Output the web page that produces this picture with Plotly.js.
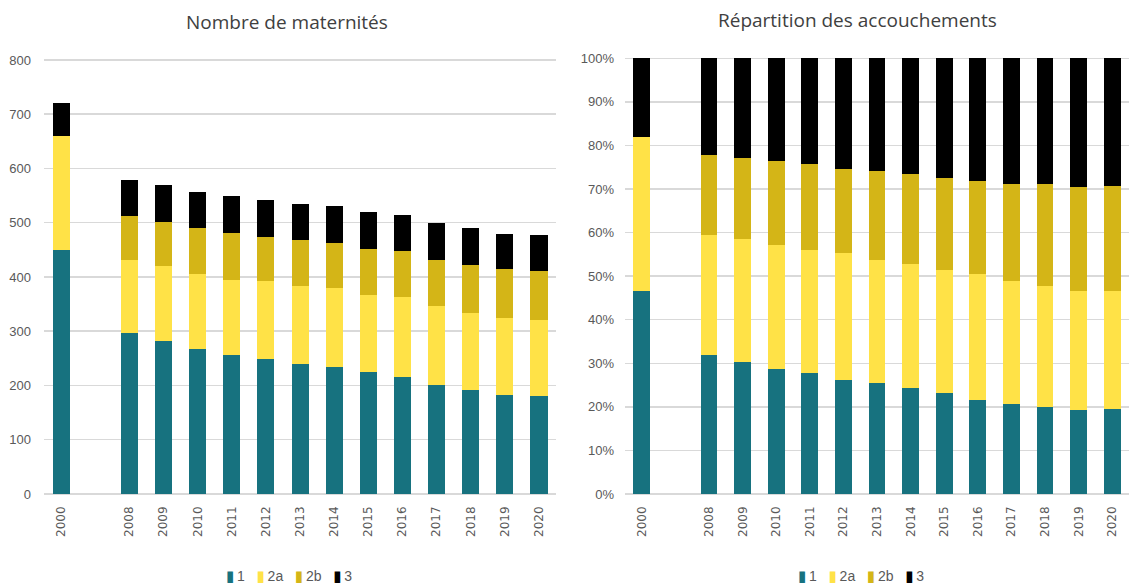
<!DOCTYPE html>
<html>
<head>
<meta charset="utf-8">
<script src="https://cdn.plot.ly/plotly-3.0.1.min.js"></script>
<style>html,body{margin:0;padding:0;background:#fff;}#chart{width:1129px;height:588px;}</style>
</head>
<body>
<div id="chart"></div>
<script>
// Categories (a blank slot separates 2000 and 2008)
const years = ['2000', ' ', '2008', '2009', '2010', '2011', '2012', '2013', '2014', '2015', '2016', '2017', '2018', '2019', '2020'];
const levels = ['1', '2a', '2b', '3'];

// Nombre de maternités, by type
const mat1  = [450, null, 297, 282, 268, 256, 248, 239, 234, 225, 215, 200, 192, 182, 181];
const mat2a = [210, null, 134, 139, 138, 139, 144, 144, 145, 142, 148, 146, 142, 142, 140];
const mat2b = [0,   null,  81,  81,  84,  87,  81,  85,  84,  85,  84,  86,  89,  90,  90];
const mat3  = [60,  null,  66,  67,  66,  68,  68,  67,  68,  68,  68,  68,  67,  66,  66];

// Répartition des accouchements (%), by type
const acc1  = [46.7, null, 32.0, 30.2, 28.7, 27.7, 26.2, 25.4, 24.3, 23.1, 21.6, 20.6, 20.0, 19.2, 19.4];
const acc2a = [35.3, null, 27.5, 28.3, 28.5, 28.3, 29.0, 28.3, 28.4, 28.2, 28.9, 28.3, 27.7, 27.3, 27.3];
const acc2b = [0,    null, 18.2, 18.6, 19.3, 19.7, 19.4, 20.5, 20.8, 21.2, 21.4, 22.2, 23.4, 24.0, 24.0];
const acc3  = [18.0, null, 22.3, 22.9, 23.5, 24.3, 25.4, 25.8, 26.5, 27.5, 28.1, 28.9, 28.9, 29.5, 29.3];

const colors = ['#17727F', '#FFE247', '#D4B517', '#000000'];
const matSeries = [mat1, mat2a, mat2b, mat3];
const accSeries = [acc1, acc2a, acc2b, acc3];

const traces = [];
matSeries.forEach((vals, i) => {
  traces.push({
    type: 'bar', name: levels[i], x: years, y: vals,
    xaxis: 'x', yaxis: 'y', showlegend: false,
    marker: {color: colors[i], line: {width: 0}}
  });
});
accSeries.forEach((vals, i) => {
  traces.push({
    type: 'bar', name: levels[i], x: years, y: vals,
    xaxis: 'x2', yaxis: 'y2', showlegend: false,
    marker: {color: colors[i], line: {width: 0}}
  });
});

const tickFont = {family: 'Liberation Sans, Arial, sans-serif', size: 13, color: '#595959'};
const xTickFont = {family: 'DejaVu Sans, sans-serif', size: 12, color: '#595959'};
const legendFont = {family: 'Liberation Sans, Arial, sans-serif', size: 14, color: '#595959'};

// Compact legend built from the series names and colours
const NB = '\u00A0';
const legendText = levels.map((l, i) =>
  `<span style="color:${colors[i]};font-family:DejaVu Sans;font-size:15px">▮</span>\u2009${l}`).join(NB + NB + NB);

const layout = {
  width: 1129, height: 588,
  margin: {l: 0, r: 0, t: 0, b: 0},
  paper_bgcolor: '#ffffff', plot_bgcolor: '#ffffff',
  barmode: 'stack', bargap: 0.5,
  showlegend: false,
  xaxis: {
    domain: [0.039, 0.4925], type: 'category', categoryorder: 'array', categoryarray: years,
    tickangle: -90, tickfont: xTickFont, showgrid: false, showline: false, zeroline: false,
    ticks: '', ticklen: 0, ticklabelstandoff: 9, automargin: false
  },
  yaxis: {
    domain: [0.1599, 0.8998], range: [0, 802], tick0: 0, dtick: 100,
    tickfont: tickFont, gridcolor: '#d9d9d9', gridwidth: 1.5,
    zeroline: true, zerolinecolor: '#d9d9d9', zerolinewidth: 1.5,
    showline: false, ticks: '', ticklabelstandoff: 12, automargin: false
  },
  xaxis2: {
    domain: [0.5536, 1.0], type: 'category', categoryorder: 'array', categoryarray: years,
    tickangle: -90, tickfont: xTickFont, showgrid: false, showline: false, zeroline: false,
    ticks: '', ticklen: 0, ticklabelstandoff: 9, anchor: 'y2', automargin: false
  },
  yaxis2: {
    domain: [0.1599, 0.9031], range: [0, 100.3], tick0: 0, dtick: 10,
    ticksuffix: '%', anchor: 'x2',
    tickfont: tickFont, gridcolor: '#d9d9d9', gridwidth: 1.5,
    zeroline: true, zerolinecolor: '#d9d9d9', zerolinewidth: 1.5,
    showline: false, ticks: '', ticklabelstandoff: 10, automargin: false
  },
  annotations: [
    {text: 'Nombre de maternités', xref: 'paper', yref: 'paper', x: 0.2545, y: 1 - 22/588,
     xanchor: 'center', yanchor: 'middle', showarrow: false,
     font: {family: 'Open Sans, sans-serif', size: 19, color: '#404040'}},
    {text: 'Répartition des accouchements', xref: 'paper', yref: 'paper', x: 0.7595, y: 1 - 20/588,
     xanchor: 'center', yanchor: 'middle', showarrow: false,
     font: {family: 'Open Sans, sans-serif', size: 19, color: '#404040'}},
    {text: legendText, xref: 'paper', yref: 'paper', x: 289/1129, y: 1 - 576/588,
     xanchor: 'center', yanchor: 'middle', showarrow: false, font: legendFont},
    {text: legendText, xref: 'paper', yref: 'paper', x: 861/1129, y: 1 - 576/588,
     xanchor: 'center', yanchor: 'middle', showarrow: false, font: legendFont}
  ]
};

Plotly.newPlot('chart', traces, layout, {displayModeBar: false, staticPlot: true});
</script>
</body>
</html>
